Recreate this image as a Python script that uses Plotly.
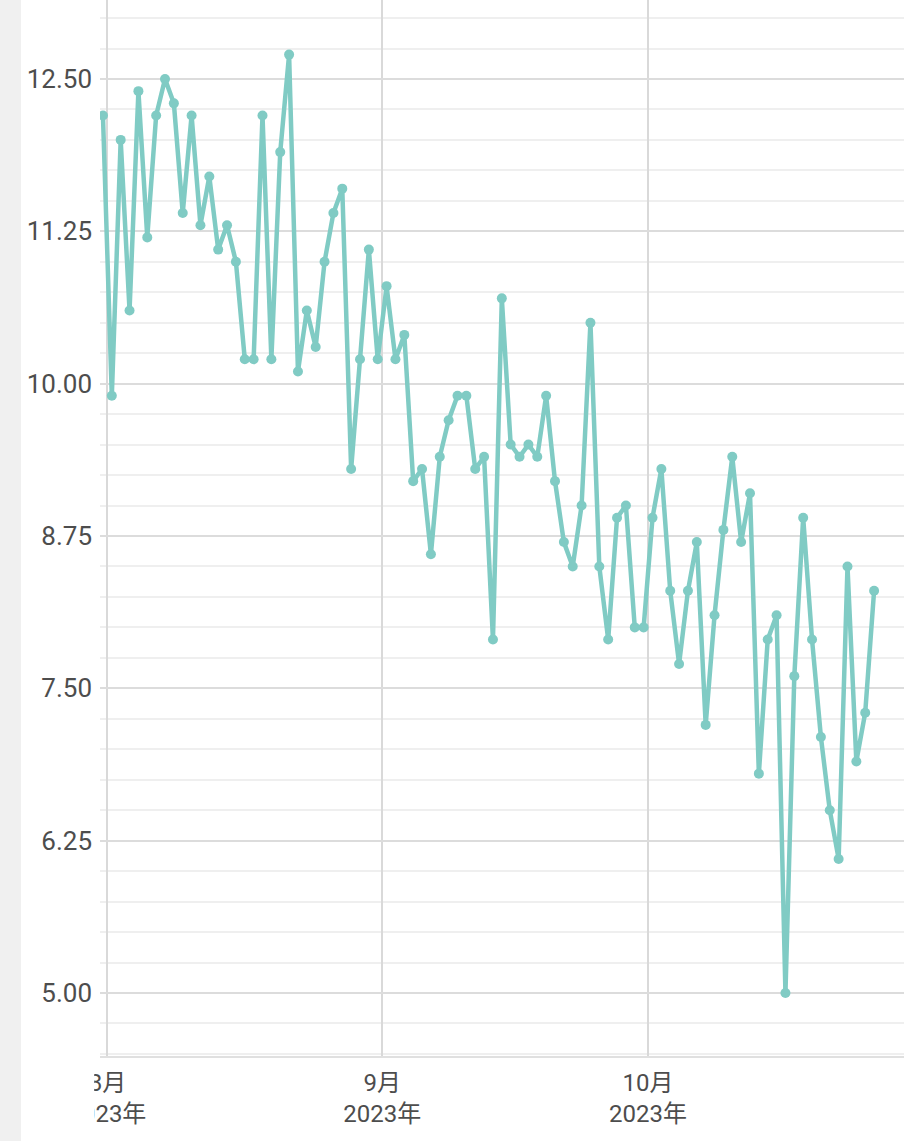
import plotly.graph_objects as go
import pandas as pd

# daily readings, one per day starting 31 Jul 2023
start_day = '2023-07-31 12:00'
values = [
    12.2, 9.9, 12.0, 10.6, 12.4, 11.2, 12.2, 12.5, 12.3, 11.4,
    12.2, 11.3, 11.7, 11.1, 11.3, 11.0, 10.2, 10.2, 12.2, 10.2,
    11.9, 12.7, 10.1, 10.6, 10.3, 11.0, 11.4, 11.6, 9.3, 10.2,
    11.1, 10.2, 10.8, 10.2, 10.4, 9.2, 9.3, 8.6, 9.4, 9.7,
    9.9, 9.9, 9.3, 9.4, 7.9, 10.7, 9.5, 9.4, 9.5, 9.4,
    9.9, 9.2, 8.7, 8.5, 9.0, 10.5, 8.5, 7.9, 8.9, 9.0,
    8.0, 8.0, 8.9, 9.3, 8.3, 7.7, 8.3, 8.7, 7.2, 8.1,
    8.8, 9.4, 8.7, 9.1, 6.8, 7.9, 8.1, 5.0, 7.6, 8.9,
    7.9, 7.1, 6.5, 6.1, 8.5, 6.9, 7.3, 8.3,
]
dates = pd.date_range(start_day, periods=len(values), freq='D')

month_ticks = ['2023-08-01', '2023-09-01', '2023-10-01']
month_labels = ['8月<br>2023年', '9月<br>2023年', '10月<br>2023年']

teal = '#80cbc4'
font_family = 'Roboto, Noto Sans CJK SC, sans-serif'

fig = go.Figure()
fig.add_trace(go.Scatter(
    x=dates,
    y=values,
    mode='lines+markers',
    line=dict(color=teal, width=4.5),
    marker=dict(color=teal, size=10),
    hoverinfo='skip',
))

fig.update_layout(
    width=904,
    height=1141,
    margin=dict(l=100, r=0, t=0, b=85),
    paper_bgcolor='white',
    plot_bgcolor='white',
    showlegend=False,
    font=dict(family=font_family, color='#4d4d4d', size=25),
    # grey strip on the far left, and a mask that clips the first month label
    shapes=[
        dict(type='rect', xref='paper', yref='paper',
             x0=-0.1244, x1=-0.0983, y0=-0.081, y1=1.0,
             fillcolor='#f0f0f0', line=dict(width=0), layer='above'),
        dict(type='rect', xref='paper', yref='paper',
             x0=-0.0983, x1=-0.0072, y0=-0.081, y1=-0.004,
             fillcolor='white', line=dict(width=0), layer='above'),
    ],
)

fig.update_xaxes(
    type='date',
    range=['2023-07-31 04:00', '2023-10-29 21:00'],
    tickvals=month_ticks,
    ticktext=month_labels,
    tickfont=dict(size=24, color='#4d4d4d'),
    showgrid=True,
    gridcolor='#d9d9d9',
    gridwidth=1.5,
    showline=True,
    linecolor='#e0e0e0',
    linewidth=2,
    zeroline=False,
    ticks='',
    ticklabelstandoff=4,
)

fig.update_yaxes(
    range=[4.483, 13.148],
    tick0=5,
    dtick=1.25,
    tickformat='.2f',
    tickfont=dict(size=26, color='#4d4d4d'),
    showgrid=True,
    gridcolor='#dcdcdc',
    gridwidth=2,
    minor=dict(dtick=0.25, tick0=5, showgrid=True, gridcolor='#efefef', gridwidth=1.5),
    zeroline=False,
    showline=False,
    ticks='',
    ticklabelstandoff=7,
)

fig.write_html(
    'out.html',
    config={'displayModeBar': False},
    post_script="document.body.style.margin='0';document.body.style.overflow='hidden';",
)
